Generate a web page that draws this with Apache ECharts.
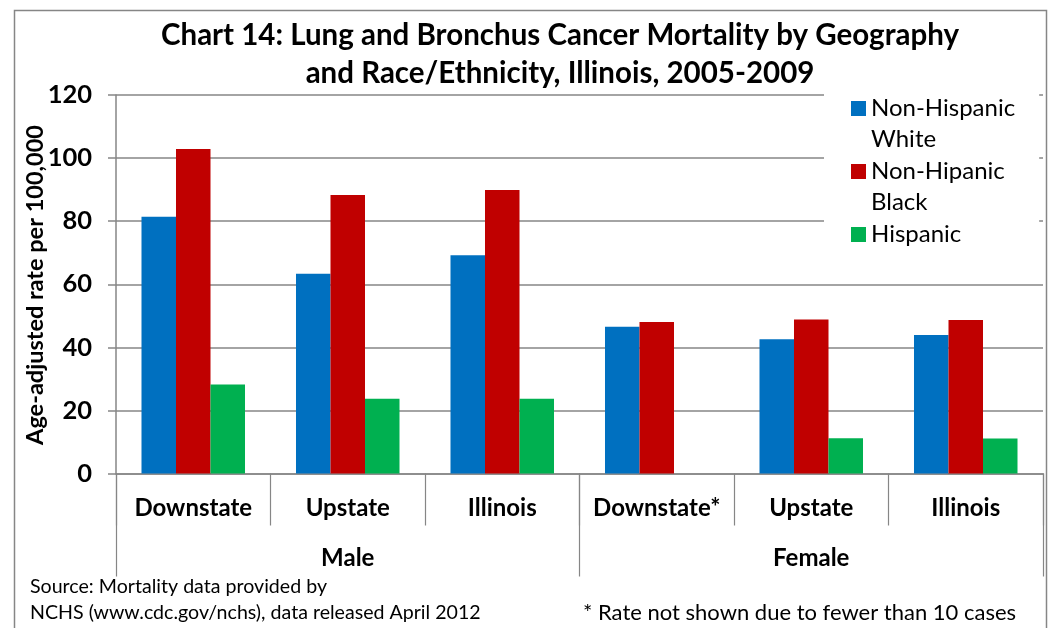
<!DOCTYPE html>
<html>
<head>
<meta charset="utf-8">
<script src="https://cdn.jsdelivr.net/npm/echarts@6/dist/echarts.min.js"></script>
<style>
  html, body { margin: 0; padding: 0; background: #fff; }
  #main { width: 1049px; height: 628px; }
</style>
</head>
<body>
<div id="main"></div>
<script>
// data
var categories = ['Downstate', 'Upstate', 'Illinois', 'Downstate*', 'Upstate', 'Illinois'];
var groups = ['Male', 'Female'];
var yTicks = [0, 20, 40, 60, 80, 100, 120];
var seriesNames = ['Non-Hispanic White', 'Non-Hipanic Black', 'Hispanic'];
var nhWhite = [81.4, 63.3, 69.2, 46.5, 42.6, 43.9];
var nhBlack = [102.9, 88.3, 89.9, 48.0, 48.8, 48.7];
var hispanic = [28.2, 23.7, 23.7, null, 11.2, 11.1];

var FONT = 'Lato';
var gray = '#868686';
var colors = ['#0070C0', '#C00000', '#00B050'];

// legend icon: square sitting next to first text line
var icon = 'path://M0,8h15v15h-15z M0,0L0.001,0 M0,62L0.001,62';

var chart = echarts.init(document.getElementById('main'));

var option = {
    animation: false,
    textStyle: { fontFamily: FONT },
    title: {
        text: 'Chart 14: Lung and Bronchus Cancer Mortality by Geography\nand Race/Ethnicity, Illinois, 2005-2009',
        left: 560,
        top: 16,
        padding: 0,
        textAlign: 'center',
        textStyle: { fontFamily: FONT, fontSize: 29.5, fontWeight: 'bold', color: '#000', lineHeight: 38 }
    },
    legend: {
        orient: 'vertical',
        left: 824,
        top: 88,
        padding: [5, 24, 0, 27],
        backgroundColor: '#fff',
        itemWidth: 15,
        itemHeight: 62,
        itemGap: 1,
        selectedMode: false,
        icon: icon,
        formatter: function (name) {
            if (name === 'Non-Hispanic White') return 'Non-Hispanic\nWhite';
            if (name === 'Non-Hipanic Black') return 'Non-Hipanic\nBlack';
            return name + '\n ';
        },
        textStyle: { fontFamily: FONT, fontSize: 24, lineHeight: 31, color: '#000' },
        data: seriesNames
    },
    grid: { left: 116, right: 6, top: 95, bottom: 154.5 },
    xAxis: [
        {
            type: 'category',
            data: categories,
            position: 'bottom',
            axisLine: { lineStyle: { color: gray, width: 1.5 } },
            axisTick: { show: true, interval: 0, length: 52, lineStyle: { color: gray, width: 1.2 } },
            axisLabel: { interval: 0, margin: 23, fontFamily: FONT, fontSize: 24, fontWeight: 'bold', color: '#000' }
        },
        {
            type: 'category',
            data: groups,
            position: 'bottom',
            axisLine: { show: false },
            axisTick: { show: true, interval: 0, length: 103, lineStyle: { color: gray, width: 1.2 } },
            axisLabel: { interval: 0, margin: 73, fontFamily: FONT, fontSize: 24, fontWeight: 'bold', color: '#000' },
            splitLine: { show: false }
        }
    ],
    yAxis: {
        type: 'value',
        min: yTicks[0],
        max: yTicks[yTicks.length - 1],
        interval: 20,
        axisLine: { show: true, lineStyle: { color: gray, width: 1.5 } },
        axisTick: { show: true, length: 8, lineStyle: { color: gray, width: 1.5 } },
        axisLabel: { margin: 24, fontFamily: FONT, fontSize: 25.5, fontWeight: 'bold', color: '#000' },
        splitLine: { lineStyle: { color: gray, width: 1.5 } }
    },
    series: [
        { name: seriesNames[0], type: 'bar', data: nhWhite, barGap: '0%', barCategoryGap: '33%', itemStyle: { color: colors[0] } },
        { name: seriesNames[1], type: 'bar', data: nhBlack, itemStyle: { color: colors[1] } },
        { name: seriesNames[2], type: 'bar', data: hispanic, itemStyle: { color: colors[2] } }
    ],
    graphic: [
        {
            type: 'rect', left: 12, top: 8, z: -1,
            shape: { width: 1032, height: 640 },
            style: { fill: 'none', stroke: gray, lineWidth: 1.5 }
        },
        // y axis title
        {
            type: 'text', x: 35, y: 285, rotation: Math.PI / 2,
            style: {
                text: 'Age-adjusted rate per 100,000',
                font: 'bold 23.5px ' + FONT, fill: '#000',
                align: 'center', verticalAlign: 'middle'
            }
        },
        {
            type: 'text', left: 30, top: 577,
            style: { text: 'Source: Mortality data provided by', font: '19.6px ' + FONT, fill: '#000' }
        },
        {
            type: 'text', left: 30, top: 603,
            style: { text: 'NCHS (www.cdc.gov/nchs), data released April 2012', font: '19.6px ' + FONT, fill: '#000' }
        },
        {
            type: 'text', left: 583, top: 602,
            style: { text: '* Rate not shown due to fewer than 10 cases', font: '22px ' + FONT, fill: '#000' }
        }
    ]
};

chart.setOption(option);
</script>
</body>
</html>
